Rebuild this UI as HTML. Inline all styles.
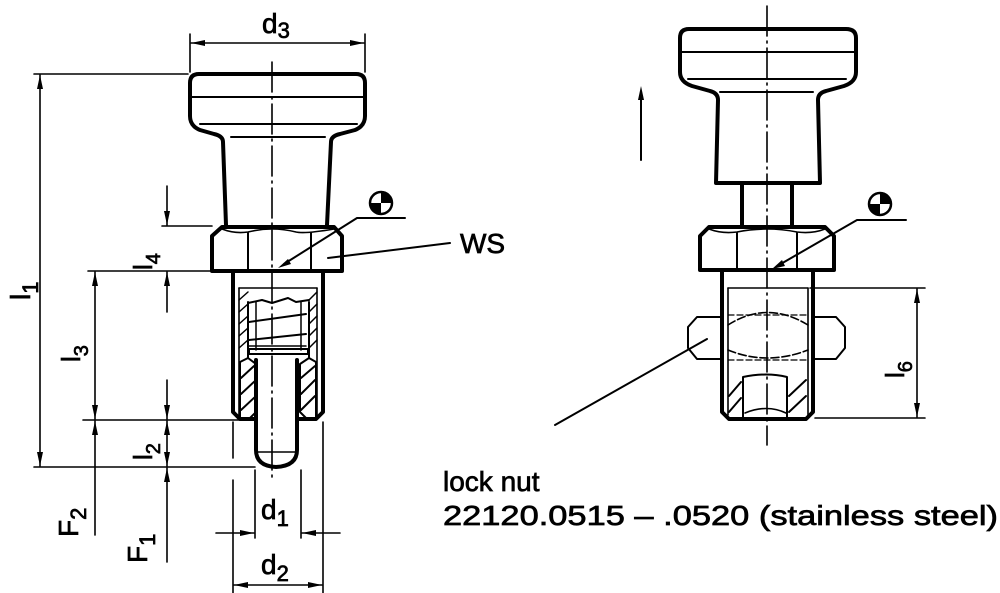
<!DOCTYPE html>
<html><head><meta charset="utf-8"><style>
html,body{margin:0;padding:0;background:#fff;}
svg{display:block;}
text{font-family:"Liberation Sans",sans-serif;fill:#000;stroke:#000;stroke-width:0.7px;}
</style></head><body>
<svg width="1000" height="593" viewBox="0 0 1000 593" xmlns="http://www.w3.org/2000/svg">
<g fill="none" stroke="#000" stroke-linecap="round" stroke-linejoin="round">
<line x1="272" y1="62" x2="272" y2="480" stroke-width="1.6" stroke-dasharray="30,5,2,5"/>
<path d="M226,225 L223,142 Q223,136 214,134 L200,130 Q190,126 190,116 L190,83 Q190,74 199,74 L356,74 Q365,74 365,83 L365,116 Q365,126 355,130 L340,134 Q331,136 331,142 L327,225" stroke-width="4"/>
<line x1="191" y1="97" x2="364" y2="97" stroke-width="2"/>
<line x1="200" y1="124" x2="357" y2="124" stroke-width="2"/>
<line x1="231" y1="137" x2="325" y2="137" stroke-width="2"/>
<path d="M222,227 L334,227 L342,236 L342,271 L212,271 L212,236 Z" stroke-width="4"/>
<line x1="248" y1="233" x2="248" y2="270" stroke-width="2"/>
<line x1="311" y1="233" x2="311" y2="270" stroke-width="2"/>
<path d="M222,229 Q235,234 248,232 Q272,226 296,232 Q305,234 334,229" stroke-width="1.6"/>
<path d="M233,272 L233,412 L240,419 L256,419 M297,419 L316,419 L323,412 L323,272" stroke-width="4"/>
<line x1="239" y1="288" x2="239" y2="415" stroke-width="1.6"/>
<line x1="317" y1="288" x2="317" y2="415" stroke-width="1.6"/>
<line x1="239" y1="288" x2="317" y2="288" stroke-width="1.6"/>
<path d="M248,303 L262,300 L272,303 L288,298 L296,302 L309,300" stroke-width="2"/>
<line x1="248" y1="302" x2="248" y2="358" stroke-width="2"/>
<line x1="309" y1="302" x2="309" y2="358" stroke-width="2"/>
<line x1="256" y1="302" x2="256" y2="350" stroke-width="1.5"/>
<line x1="301" y1="302" x2="301" y2="350" stroke-width="1.5"/>
<line x1="249" y1="322" x2="306" y2="314" stroke-width="2"/>
<line x1="249" y1="340" x2="306" y2="334" stroke-width="2"/>
<rect x="249" y="349" width="59" height="5" stroke-width="2"/>
<line x1="249" y1="346" x2="306" y2="346" stroke-width="1.5"/>
<g stroke-width="1.5">
<line x1="239" y1="300" x2="248" y2="292"/><line x1="239" y1="312" x2="248" y2="304"/><line x1="239" y1="324" x2="248" y2="316"/><line x1="239" y1="336" x2="248" y2="328"/><line x1="239" y1="348" x2="248" y2="340"/>
<line x1="309" y1="300" x2="317" y2="292"/><line x1="309" y1="312" x2="317" y2="304"/><line x1="309" y1="324" x2="317" y2="316"/><line x1="309" y1="336" x2="317" y2="328"/><line x1="309" y1="348" x2="317" y2="340"/>
</g>
<path d="M248,358 L256,364 L256,412 L250,418 L240,418 L240,362 Z" stroke-width="2"/>
<path d="M309,358 L300,364 L300,412 L306,418 L316,418 L316,362 Z" stroke-width="2"/>
<g stroke-width="2">
<line x1="241" y1="378" x2="254" y2="366"/><line x1="241" y1="394" x2="256" y2="380"/><line x1="241" y1="410" x2="256" y2="396"/>
<line x1="301" y1="378" x2="315" y2="366"/><line x1="301" y1="394" x2="315" y2="380"/><line x1="301" y1="410" x2="315" y2="396"/>
</g>
<path d="M256,360 L256,450 Q256,466 276,467 Q297,466 297,450 L297,360" stroke-width="4"/>
<line x1="257" y1="452" x2="296" y2="452" stroke-width="1.5"/>
<circle cx="381" cy="203" r="11" stroke-width="2.5"/>
<path d="M405,218 L357,218 L284,264" stroke-width="2"/>
<line x1="328" y1="258" x2="450" y2="243" stroke-width="2"/>
<line x1="190" y1="34" x2="190" y2="72" stroke-width="1.6"/>
<line x1="365" y1="34" x2="365" y2="72" stroke-width="1.6"/>
<line x1="191" y1="43" x2="364" y2="43" stroke-width="1.6"/>
<line x1="34" y1="74" x2="188" y2="74" stroke-width="1.6"/>
<line x1="34" y1="467" x2="255" y2="467" stroke-width="1.6"/>
<line x1="40" y1="75" x2="40" y2="466" stroke-width="1.6"/>
<line x1="162" y1="226" x2="212" y2="226" stroke-width="1.6"/>
<line x1="88" y1="271" x2="212" y2="271" stroke-width="1.6"/>
<line x1="167" y1="186" x2="167" y2="225" stroke-width="1.6"/>
<line x1="167" y1="312" x2="167" y2="272" stroke-width="1.6"/>
<line x1="95" y1="272" x2="95" y2="419" stroke-width="1.6"/>
<line x1="83" y1="420" x2="240" y2="420" stroke-width="1.6"/>
<line x1="167" y1="380" x2="167" y2="419" stroke-width="1.6"/>
<line x1="167" y1="421" x2="167" y2="466" stroke-width="1.6"/>
<line x1="95" y1="421" x2="95" y2="535" stroke-width="1.6"/>
<line x1="167" y1="468" x2="167" y2="562" stroke-width="1.6"/>
<line x1="233" y1="422" x2="233" y2="458" stroke-width="1.6"/>
<line x1="233" y1="480" x2="233" y2="593" stroke-width="1.6"/>
<line x1="323" y1="422" x2="323" y2="593" stroke-width="1.6"/>
<line x1="255" y1="470" x2="255" y2="538" stroke-width="1.6"/>
<line x1="301" y1="470" x2="301" y2="538" stroke-width="1.6"/>
<line x1="216" y1="533" x2="254" y2="533" stroke-width="1.6"/>
<line x1="340" y1="533" x2="302" y2="533" stroke-width="1.6"/>
<line x1="234" y1="585" x2="322" y2="585" stroke-width="1.6"/>

<line x1="767" y1="6" x2="767" y2="445" stroke-width="1.6" stroke-dasharray="30,5,2,5"/>
<path d="M716,183 L718,100 Q718,93 710,91 L692,86 Q680,82 680,72 L680,38 Q680,29 689,29 L846,29 Q856,29 856,38 L856,72 Q856,82 844,86 L826,91 Q818,93 818,100 L820,183 Z" stroke-width="4"/>
<line x1="681" y1="52" x2="855" y2="52" stroke-width="2"/>
<line x1="688" y1="79" x2="846" y2="79" stroke-width="2"/>
<line x1="720" y1="92" x2="813" y2="92" stroke-width="2"/>
<line x1="742" y1="183" x2="742" y2="226" stroke-width="4"/>
<line x1="792" y1="183" x2="792" y2="226" stroke-width="4"/>
<line x1="641" y1="160" x2="641" y2="96" stroke-width="2"/>
<path d="M709,227 L825,227 L834,236 L834,270 L700,270 L700,236 Z" stroke-width="4"/>
<line x1="737" y1="233" x2="737" y2="269" stroke-width="2"/>
<line x1="797" y1="233" x2="797" y2="269" stroke-width="2"/>
<path d="M709,229 Q722,234 737,232 Q767,226 797,232 Q812,234 825,229" stroke-width="1.6"/>
<path d="M722,271 L722,412 L729,419 L806,419 L813,412 L813,271" stroke-width="4"/>
<line x1="728" y1="288" x2="728" y2="415" stroke-width="1.6"/>
<line x1="808" y1="288" x2="808" y2="415" stroke-width="1.6"/>
<line x1="728" y1="288" x2="808" y2="288" stroke-width="1.6"/>
<path d="M722,317 L697,317 L688,327 L688,348 L697,359 L722,359" stroke-width="2"/>
<path d="M813,317 L836,317 L845,327 L845,348 L836,359 L813,359" stroke-width="2"/>
<path d="M728,325 Q767,300 808,325 M728,350 Q767,366 808,350" stroke-width="1.6" stroke-dasharray="8,3"/>
<line x1="728" y1="315" x2="808" y2="315" stroke-width="1.2" stroke-dasharray="6,3"/>
<line x1="728" y1="360" x2="808" y2="360" stroke-width="1.2" stroke-dasharray="6,3"/>
<path d="M743,418 L743,377 Q767,372 787,377 L787,418" stroke-width="2"/>
<path d="M745,413 Q767,404 786,413" stroke-width="1.6"/>
<g stroke-width="2">
<line x1="729" y1="396" x2="741" y2="382"/><line x1="729" y1="412" x2="741" y2="398"/>
<line x1="789" y1="396" x2="806" y2="380"/><line x1="789" y1="412" x2="806" y2="396"/>
</g>
<circle cx="880" cy="204" r="11" stroke-width="2.5"/>
<path d="M906,220 L857,220 L779,265" stroke-width="2"/>
<line x1="555" y1="425" x2="707" y2="339" stroke-width="2"/>
<line x1="810" y1="288" x2="925" y2="288" stroke-width="1.6"/>
<line x1="815" y1="418" x2="925" y2="418" stroke-width="1.6"/>
<line x1="917" y1="289" x2="917" y2="417" stroke-width="1.6"/>
</g>

<g fill="#000" stroke="none">
<path d="M381,192 A11,11 0 0 1 392,203 L381,203 Z"/>
<path d="M381,214 A11,11 0 0 1 370,203 L381,203 Z"/>
<path d="M880,193 A11,11 0 0 1 891,204 L880,204 Z"/>
<path d="M880,215 A11,11 0 0 1 869,204 L880,204 Z"/>
<polygon points="191,43 205,40 205,46"/>
<polygon points="364,43 350,40 350,46"/>
<polygon points="40,75 37,89 43,89"/>
<polygon points="40,466 37,452 43,452"/>
<polygon points="167,225 164,211 170,211"/>
<polygon points="167,272 164,286 170,286"/>
<polygon points="95,272 92,286 98,286"/>
<polygon points="95,419 92,405 98,405"/>
<polygon points="167,419 164,405 170,405"/>
<polygon points="167,421 164,435 170,435"/>
<polygon points="167,466 164,452 170,452"/>
<polygon points="95,421 92,435 98,435"/>
<polygon points="167,468 164,482 170,482"/>
<polygon points="254,533 240,530 240,536"/>
<polygon points="302,533 316,530 316,536"/>
<polygon points="234,585 248,582 248,588"/>
<polygon points="322,585 308,582 308,588"/>
<polygon points="641,86 638,100 644,100"/>
<polygon points="917,289 914,303 920,303"/>
<polygon points="917,417 914,403 920,403"/>
<polygon points="278,268 291,264 288,259"/>
<polygon points="772,269 785,266 782,260"/>
</g>

<text x="262" y="33" font-size="28">d<tspan font-size="22" dy="5">3</tspan></text>
<text x="460" y="253" font-size="28">WS</text>
<text x="261" y="519" font-size="28">d<tspan font-size="22" dy="7">1</tspan></text>
<text x="261" y="574" font-size="28">d<tspan font-size="22" dy="7">2</tspan></text>
<text transform="translate(30,300) rotate(-90)" font-size="28">l<tspan font-size="22" dy="8">1</tspan></text>
<text transform="translate(152,270) rotate(-90)" font-size="26">l<tspan font-size="20" dy="8">4</tspan></text>
<text transform="translate(80,362) rotate(-90)" font-size="26">l<tspan font-size="20" dy="8">3</tspan></text>
<text transform="translate(152,460) rotate(-90)" font-size="26">l<tspan font-size="20" dy="8">2</tspan></text>
<text transform="translate(78,537) rotate(-90)" font-size="28">F<tspan font-size="22" dy="8">2</tspan></text>
<text transform="translate(147,563) rotate(-90)" font-size="28">F<tspan font-size="22" dy="8">1</tspan></text>
<text transform="translate(904,378) rotate(-90)" font-size="26">l<tspan font-size="20" dy="8">6</tspan></text>
<text x="443" y="491" font-size="28">lock nut</text>
<text x="443" y="525" font-size="28" textLength="555" lengthAdjust="spacingAndGlyphs">22120.0515 – .0520 (stainless steel)</text>
</svg>
</body></html>
